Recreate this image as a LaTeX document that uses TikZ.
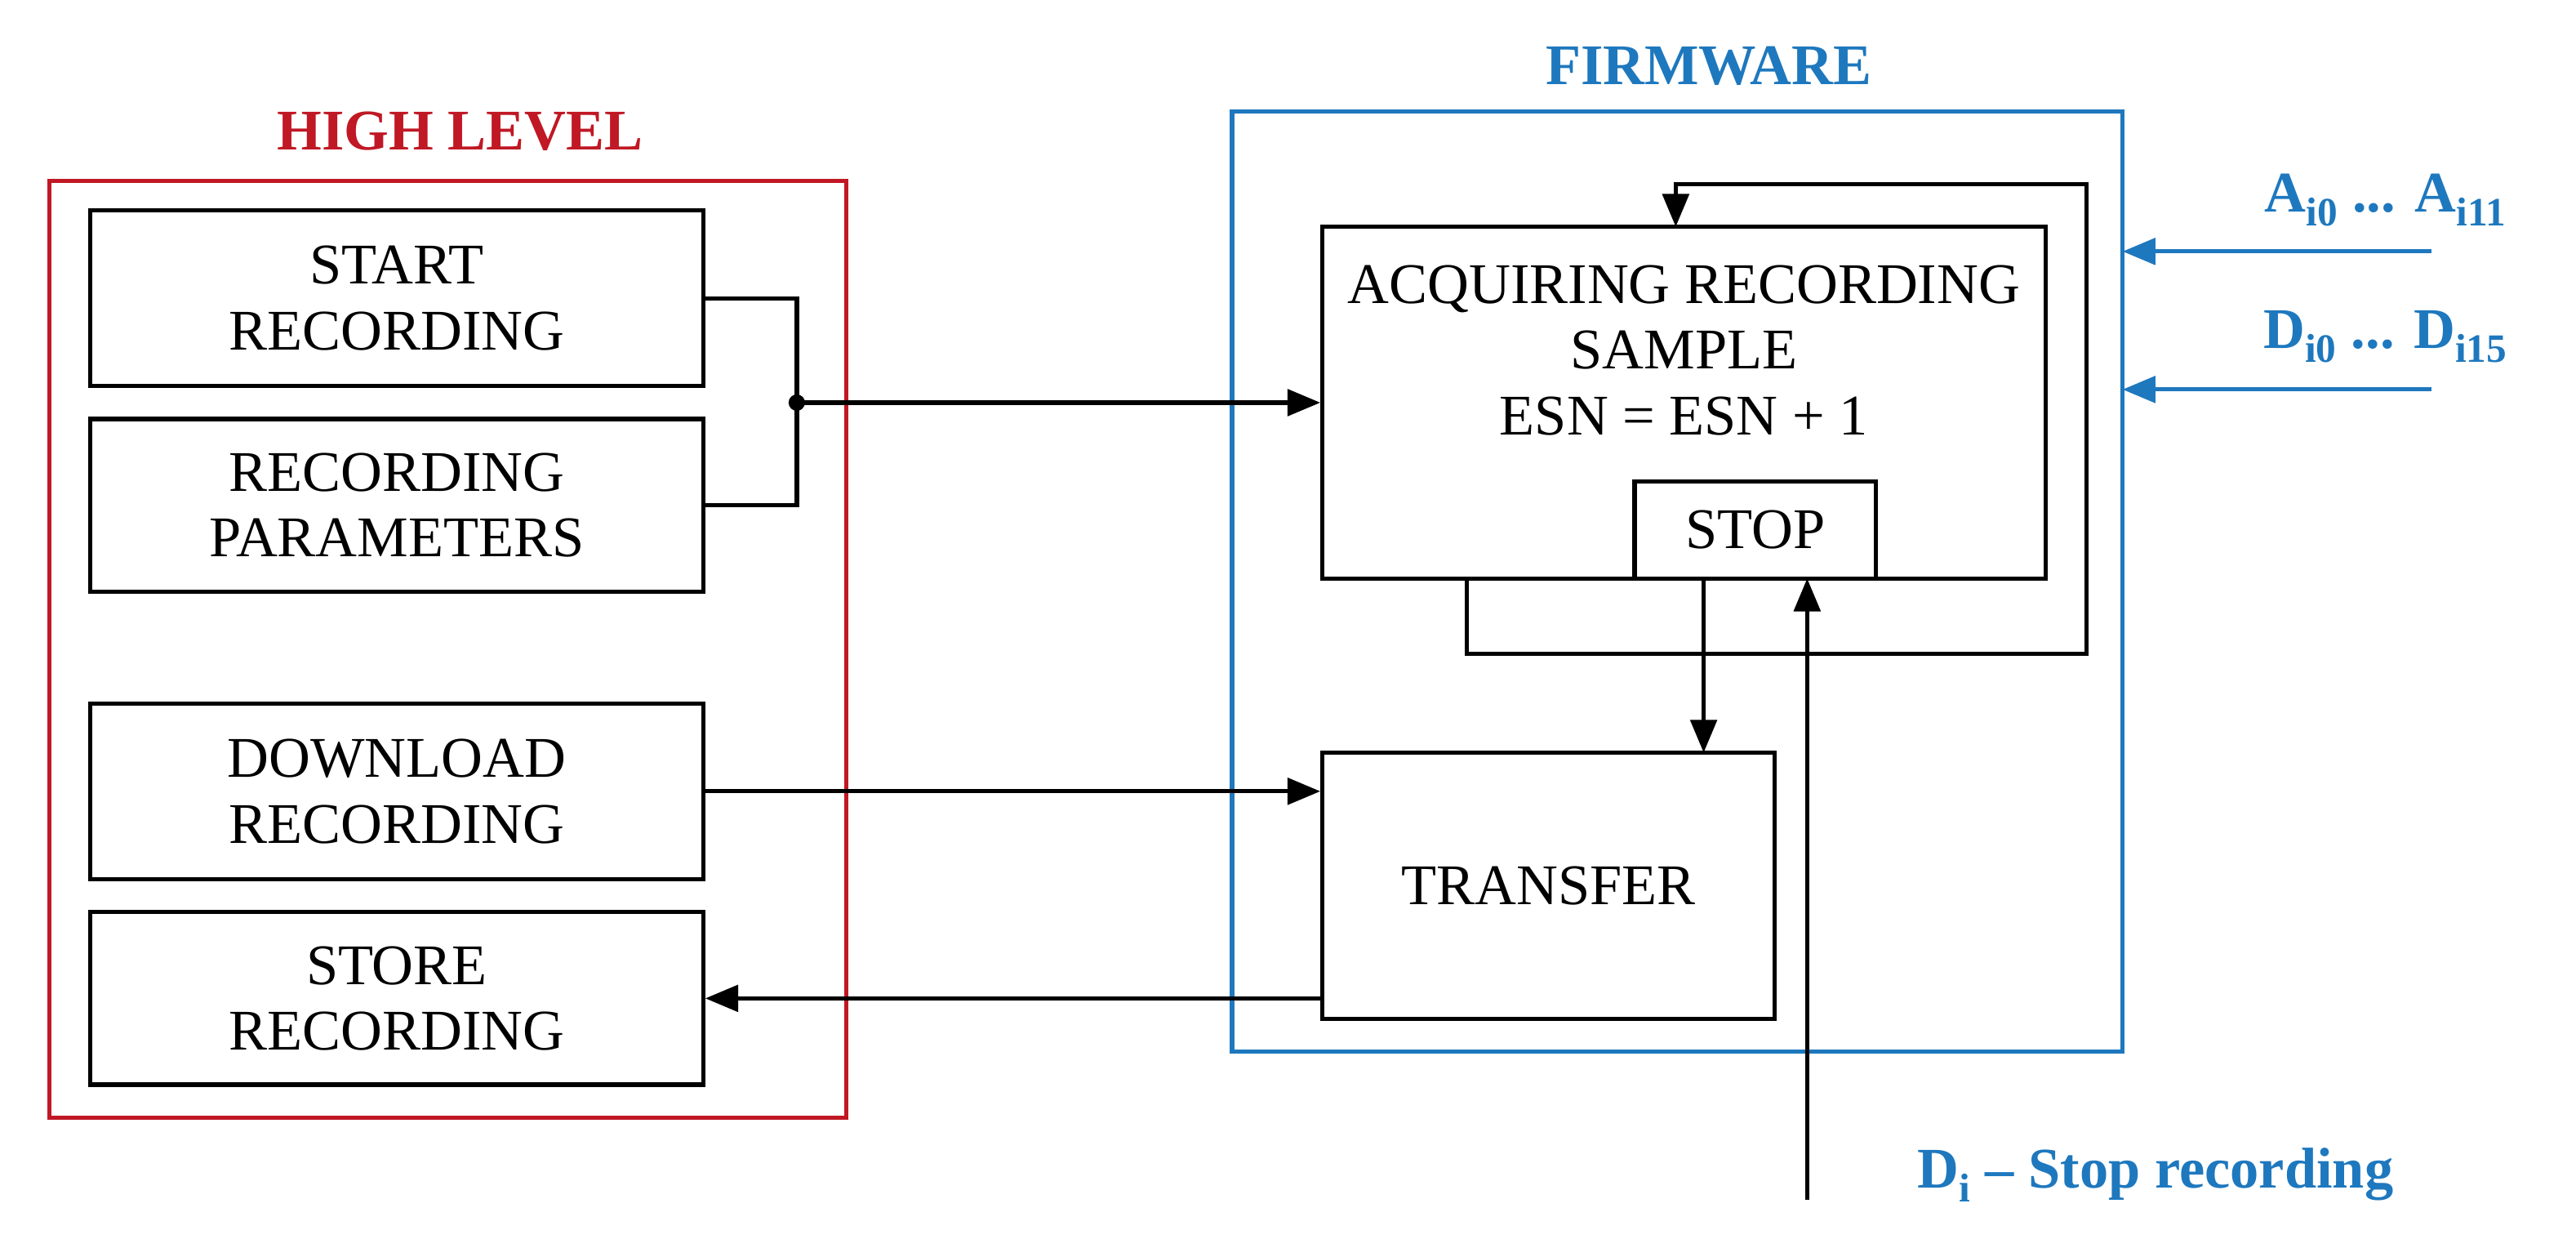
\documentclass[tikz,border=0pt]{standalone}
\usepackage{fontspec}
\setmainfont{Liberation Serif}
\usetikzlibrary{arrows.meta}
\definecolor{hl}{RGB}{192,24,36}
\definecolor{fw}{RGB}{30,120,190}
\begin{document}
\begin{tikzpicture}[x=1pt,y=-1pt,line width=2.6pt,
  box/.style={draw=black,align=center,inner sep=0pt,font=\fontsize{35}{40}\selectfont},
  arr/.style={-{Triangle[length=20pt,width=16pt]}},
  lbl/.style={font=\fontsize{35}{40}\selectfont\bfseries}]
\useasboundingbox (0,0) rectangle (1568,759);
\draw[hl] (30,110) rectangle (515,680);
\node[lbl,text=hl] (hlt) at (280,80) {HIGH LEVEL};
\draw[fw] (750,68) rectangle (1292,640);
\node[lbl,text=fw] (fwt) at (1040,40) {FIRMWARE};
\node[box,minimum width=373pt,minimum height=107pt] (start) at (241.5,181.5) {START\\RECORDING};
\node[box,minimum width=373pt,minimum height=105pt] (param) at (241.5,307.5) {RECORDING\\PARAMETERS};
\node[box,minimum width=373pt,minimum height=107pt] (down) at (241.5,481.5) {DOWNLOAD\\RECORDING};
\node[box,minimum width=373pt,minimum height=105pt] (store) at (241.5,607.5) {STORE\\RECORDING};
\node[box,minimum width=440pt,minimum height=214pt] (acq) at (1025,245) {};
\node[box,draw=none] (acqt) at (1025,213) {ACQUIRING RECORDING\\SAMPLE\\ESN = ESN + 1};
\node[box,minimum width=147pt,minimum height=59pt] (stop) at (1068.5,322.5) {STOP};
\node[box,minimum width=275pt,minimum height=162pt] (trans) at (942.5,539) {TRANSFER};
\coordinate (j) at (485,245);
\draw (start.east) -| (j) |- (param.east);
\fill (j) circle (5pt);
\draw[arr] (j) -- (acq.west);
\draw[arr] (down.east) -- (down.east -| trans.west);
\draw[arr] (trans.west |- store.east) -- (store.east);
\draw[arr] (1037,352) -- (1037,458);
\draw (893,352) -- (893,398) -- (1270,398) -- (1270,112) -- (1020,112);
\draw[arr] (1020,110.7) -- (1020,138);
\coordinate (di) at (1100,730);
\draw[arr] (di) -- (1100,352);
\coordinate (a1) at (1480,153);
\coordinate (d1) at (1480,237);
\draw[arr,fw] (a1) -- (1292,153);
\draw[arr,fw] (d1) -- (1292,237);
\node[lbl,text=fw] (at) at (1452,122) {A\textsubscript{i0} ... A\textsubscript{i11}};
\node[lbl,text=fw] (dt) at (1452,205) {D\textsubscript{i0} ... D\textsubscript{i15}};
\node[lbl,text=fw] (st) at (1312,715) {D\textsubscript{i} – Stop recording};
\end{tikzpicture}
\end{document}
